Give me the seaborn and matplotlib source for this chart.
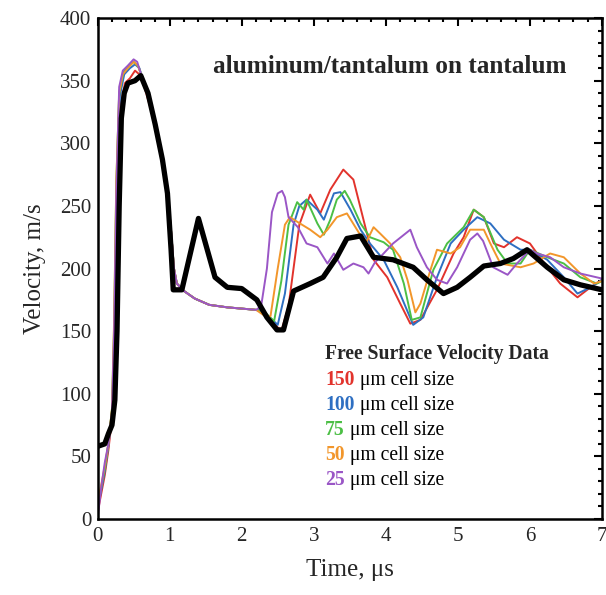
import matplotlib
matplotlib.use("Agg")
import matplotlib.pyplot as plt
import seaborn as sns
import pandas as pd
from matplotlib.ticker import MultipleLocator

sns.set_style("white")
plt.rcParams['font.family'] = ['Liberation Serif', 'DejaVu Serif']
plt.rcParams['mathtext.fontset'] = 'stix'

# ---- data ----
common_desc_x = [0.7, 0.8, 0.9, 0.97, 1.02, 1.06, 1.1, 1.2, 1.35, 1.55, 1.8, 2.0, 2.2]
common_desc_y = [338, 315, 290, 262, 230, 200, 188, 182, 176, 171, 169, 168, 167]

exp_x = [0, 0.1, 0.15, 0.2, 0.24, 0.27, 0.3, 0.33, 0.37, 0.42, 0.52, 0.6, 0.7, 0.8, 0.9,
         0.97, 1.02, 1.05, 1.17, 1.4, 1.63, 1.8, 2.0, 2.21, 2.35, 2.49, 2.58, 2.72, 2.95,
         3.13, 3.32, 3.46, 3.65, 3.83, 4.1, 4.38, 4.57, 4.8, 4.99, 5.17, 5.36, 5.59, 5.77,
         5.96, 6.24, 6.47, 6.7, 7.0]
exp_y = [58, 60, 68, 75, 95, 150, 250, 320, 340, 348, 350, 354, 340, 315, 287,
         260, 215, 183, 183, 240, 193, 185, 184, 175, 161, 151, 151, 182, 188,
         193, 209, 224, 226, 209, 207, 201, 191, 180, 185, 193, 202, 204, 208,
         215, 201, 191, 187, 183]

c150_x = [0, 0.1, 0.15, 0.2, 0.25, 0.28, 0.32, 0.38, 0.45, 0.52, 0.58, 0.65] + common_desc_x[1:] + \
         [2.3, 2.55, 2.65, 2.8, 2.95, 3.09, 3.23, 3.41, 3.55, 3.69, 3.83, 4.02, 4.2, 4.34, 4.48,
          4.71, 4.94, 5.08, 5.22, 5.36, 5.5, 5.64, 5.82, 6.0, 6.2, 6.42, 6.66, 6.84, 7.0]
c150_y = [5, 35, 55, 80, 130, 250, 330, 348, 352, 358, 355, 345] + common_desc_y[1:] + \
         [165, 150, 170, 235, 259, 244, 263, 279, 271, 239, 207, 193, 172, 156, 159,
          183, 212, 225, 247, 241, 220, 217, 225, 220, 204, 188, 177, 185, 191]

c100_x = [0, 0.1, 0.15, 0.2, 0.24, 0.27, 0.31, 0.37, 0.45, 0.52, 0.58] + common_desc_x + \
         [2.3, 2.5, 2.6, 2.72, 2.8, 2.9, 3.05, 3.14, 3.28, 3.37, 3.51, 3.65, 3.78, 3.97, 4.16,
          4.38, 4.52, 4.71, 4.9, 5.08, 5.27, 5.45, 5.64, 5.87, 6.0, 6.24, 6.47, 6.66, 6.84, 7.0]
c100_y = [8, 38, 58, 85, 150, 265, 338, 355, 360, 363, 360] + common_desc_y + \
         [166, 155, 180, 235, 250, 255, 247, 239, 260, 261, 247, 231, 220, 207, 185,
          155, 161, 193, 220, 231, 241, 236, 223, 215, 215, 207, 193, 180, 185, 191]

c75_x = [0, 0.1, 0.15, 0.2, 0.23, 0.26, 0.3, 0.36, 0.44, 0.5, 0.57] + common_desc_x + \
        [2.3, 2.45, 2.55, 2.65, 2.77, 2.86, 2.9, 3.05, 3.14, 3.23, 3.32, 3.43, 3.5, 3.65, 3.78,
         3.97, 4.1, 4.25, 4.36, 4.48, 4.66, 4.85, 5.08, 5.22, 5.36, 5.55, 5.69, 5.87, 6.0,
         6.24, 6.47, 6.7, 6.93, 7.0]
c75_y = [10, 40, 60, 88, 155, 268, 340, 357, 362, 365, 361] + common_desc_y + \
        [166, 158, 190, 235, 253, 247, 255, 236, 227, 239, 255, 262, 255, 236, 225,
         221, 215, 188, 159, 161, 199, 220, 233, 247, 241, 215, 204, 204, 215,
         209, 204, 193, 188, 190]

c50_x = [0, 0.1, 0.15, 0.2, 0.23, 0.26, 0.3, 0.35, 0.42, 0.5, 0.56] + common_desc_x + \
        [2.35, 2.4, 2.5, 2.6, 2.67, 2.78, 2.95, 3.09, 3.19, 3.32, 3.46, 3.6, 3.72, 3.83, 3.92,
         4.06, 4.2, 4.3, 4.41, 4.48, 4.62, 4.71, 4.9, 5.03, 5.17, 5.36, 5.45, 5.59, 5.87,
         6.05, 6.28, 6.47, 6.7, 6.89, 7.0]
c50_y = [12, 42, 60, 88, 160, 270, 340, 355, 360, 365, 362] + common_desc_y + \
        [161, 162, 200, 235, 241, 237, 231, 225, 231, 241, 244, 231, 220, 233, 228,
         220, 209, 191, 165, 172, 199, 215, 212, 217, 231, 231, 220, 204, 201,
         204, 212, 209, 196, 188, 190]

c25_x = [0, 0.05, 0.1, 0.15, 0.2, 0.23, 0.26, 0.3, 0.35, 0.42, 0.5, 0.55, 0.62] + common_desc_x + \
        [2.27, 2.35, 2.42, 2.5, 2.56, 2.6, 2.65, 2.78, 2.9, 3.05, 3.19, 3.28, 3.41, 3.55, 3.69,
         3.76, 3.85, 3.92, 4.1, 4.34, 4.43, 4.57, 4.71, 4.85, 4.99, 5.17, 5.27, 5.35, 5.49,
         5.69, 5.82, 6.0, 6.1, 6.28, 6.47, 6.7, 7.0]
c25_y = [0, 25, 45, 60, 85, 150, 260, 345, 358, 362, 367, 365, 352] + common_desc_y + \
        [170, 200, 245, 260, 262, 257, 241, 233, 220, 217, 204, 212, 199, 204, 201,
         196, 205, 209, 220, 231, 217, 201, 191, 188, 201, 223, 228, 222, 201,
         195, 204, 215, 212, 209, 201, 196, 192]

sizes = ["150", "100", "75", "50", "25"]
colors = ["#e2332c", "#2e6fc2", "#4cbf45", "#f2962b", "#9a56c6"]
series_x = [c150_x, c100_x, c75_x, c50_x, c25_x]
series_y = [c150_y, c100_y, c75_y, c50_y, c25_y]

title_text = "aluminum/tantalum on tantalum"
legend_title = "Free Surface Velocity Data"
x_label = "Time, μs"
y_label = "Velocity, m/s"

# ---- figure ----
fig = plt.figure(figsize=(6.06, 5.95), dpi=100)
ax = fig.add_axes([0.161, 0.1277, 0.8324, 0.842])

for s, c, xs, ys in zip(sizes, colors, series_x, series_y):
    df = pd.DataFrame({"t": xs, "v": ys})
    sns.lineplot(data=df, x="t", y="v", ax=ax, color=c, lw=1.4, sort=False,
                 estimator=None, zorder=2)
df_exp = pd.DataFrame({"t": exp_x, "v": exp_y})
sns.lineplot(data=df_exp, x="t", y="v", ax=ax, color="black", lw=3.8, sort=False,
             estimator=None, zorder=3)

ax.set_xlim(0, 7)
ax.set_ylim(0, 400)
ax.xaxis.set_major_locator(MultipleLocator(1))
ax.xaxis.set_minor_locator(MultipleLocator(0.2))
ax.yaxis.set_major_locator(MultipleLocator(50))
ax.yaxis.set_minor_locator(MultipleLocator(10))
ax.tick_params(which="both", direction="in", top=True, right=True, width=1.5,
               labelsize=15, color="black")
ax.tick_params(which="major", length=5.5)
ax.tick_params(which="minor", length=3)
ax.tick_params(axis="y", which="major", pad=4.5)
ax.tick_params(axis="x", which="major", pad=6)
for sp in ax.spines.values():
    sp.set_linewidth(1.8)
    sp.set_color("black")

ax.set_xlabel(x_label, fontsize=18, labelpad=9)
ax.set_ylabel(y_label, fontsize=18, labelpad=10)

ax.text(4.06, 361, title_text, fontsize=18.2, fontweight="bold", ha="center",
        va="center")

# legend-like text block
lx, ly0, dy = 3.16, 127.5, 20.1
ax.text(lx, ly0, legend_title, fontsize=14.1, fontweight="bold", ha="left",
        va="baseline")
for i, (s, c) in enumerate(zip(sizes, colors)):
    yy = ly0 - (i + 1) * dy
    t = ax.text(lx, yy, s, fontsize=14.1, fontweight="bold", color=c,
                ha="left", va="baseline")
    ax.annotate(" μm cell size", xy=(1, 0), xycoords=t, fontsize=14.1,
                ha="left", va="bottom", color="black")

fig.savefig("out.png", dpi=100)
